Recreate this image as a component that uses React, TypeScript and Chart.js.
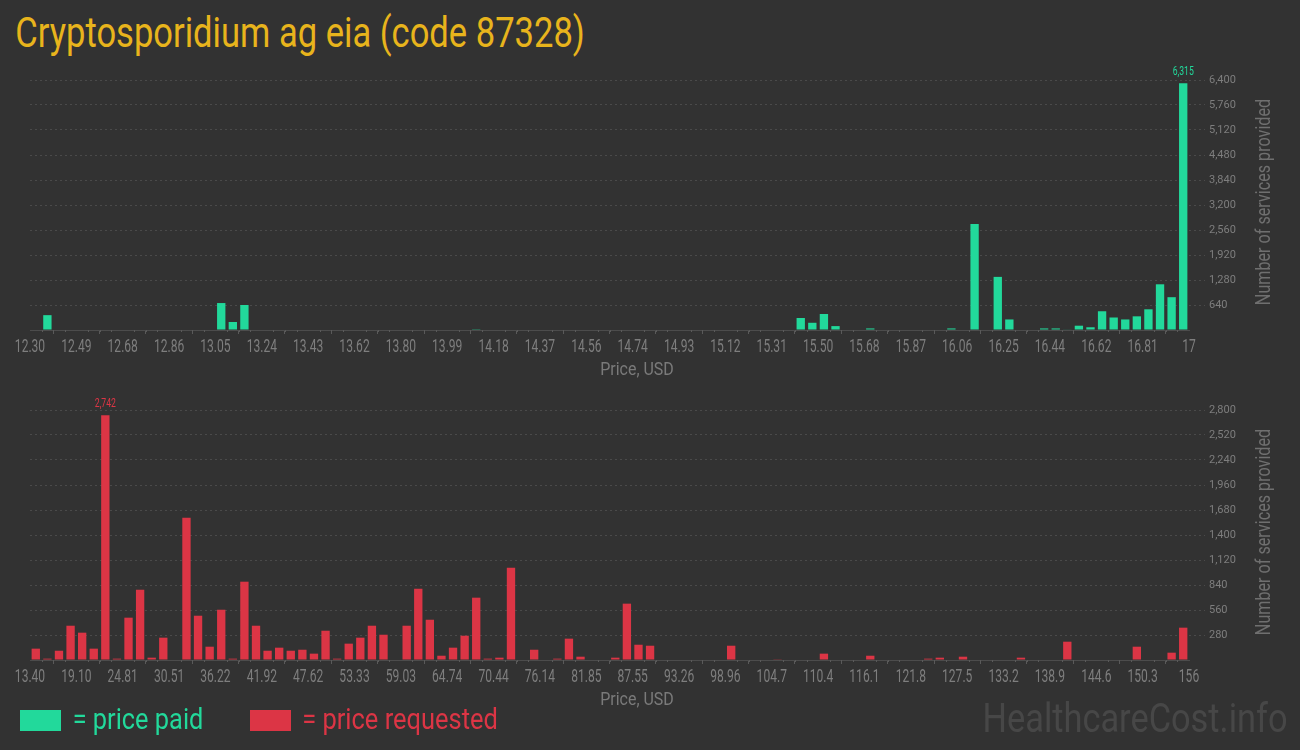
import React, { useEffect, useLayoutEffect, useRef, useState } from "react";
import { Chart, registerables } from "chart.js";

Chart.register(...registerables);

const chartTitle = "Cryptosporidium ag eia (code 87328)";
const xAxisTitle = "Price, USD";
const yAxisTitle = "Number of services provided";
const paidLegend = "= price paid";
const requestedLegend = "= price requested";
const watermark = "HealthcareCost.info";

const paidTickLabels = [
  "12.30", "12.49", "12.68", "12.86", "13.05", "13.24", "13.43", "13.62", "13.80",
  "13.99", "14.18", "14.37", "14.56", "14.74", "14.93", "15.12", "15.31", "15.50",
  "15.68", "15.87", "16.06", "16.25", "16.44", "16.62", "16.81", "17",
];

const requestedTickLabels = [
  "13.40", "19.10", "24.81", "30.51", "36.22", "41.92", "47.62", "53.33", "59.03",
  "64.74", "70.44", "76.14", "81.85", "87.55", "93.26", "98.96", "104.7", "110.4",
  "116.1", "121.8", "127.5", "133.2", "138.9", "144.6", "150.3", "156",
];

// number of services per price bin (100 bins)
const paidCounts = [
  0, 380, 0, 0, 0, 0, 0, 0, 0, 0,
  0, 0, 0, 0, 0, 0, 690, 205, 640, 0,
  0, 0, 0, 0, 0, 0, 0, 0, 0, 0,
  0, 0, 0, 0, 0, 0, 0, 0, 20, 0,
  0, 0, 0, 0, 0, 0, 0, 0, 0, 0,
  0, 0, 0, 0, 0, 0, 0, 0, 0, 0,
  0, 0, 0, 0, 0, 0, 307, 185, 410, 100,
  0, 0, 40, 0, 0, 0, 0, 0, 0, 40,
  0, 2714, 0, 1360, 270, 0, 0, 40, 40, 15,
  110, 70, 480, 320, 270, 350, 530, 1170, 840, 6315,
];

const requestedCounts = [
  127, 15, 104, 384, 306, 127, 2742, 15, 474, 787,
  26, 250, 0, 1594, 496, 149, 563, 15, 877, 384,
  104, 138, 104, 115, 71, 328, 15, 183, 250, 384,
  283, 0, 384, 798, 451, 48, 138, 272, 698, 15,
  26, 1034, 0, 115, 0, 15, 239, 37, 0, 0,
  26, 631, 171, 160, 0, 0, 0, 0, 0, 0,
  160, 0, 0, 0, 8, 0, 0, 0, 71, 0,
  0, 0, 48, 0, 0, 0, 0, 15, 26, 0,
  37, 0, 0, 0, 0, 26, 0, 0, 0, 205,
  0, 0, 0, 0, 0, 149, 0, 0, 82, 362,
];

const paidAxisMax = 6400;
const paidAxisStep = 640;
const requestedAxisMax = 2800;
const requestedAxisStep = 280;

const BG = "#323232";
const GREEN = "#22d99b";
const RED = "#dc3545";
const FONT = "Roboto, sans-serif";
const TICK_COLOR = "#7e7e7e";

const minorTicksPlugin = {
  id: "minorTicks",
  afterDraw(chart: any) {
    const xs = chart.scales.x;
    const ctx = chart.ctx;
    const bottom = chart.chartArea.bottom;
    ctx.save();
    ctx.strokeStyle = "#5a5a5a";
    ctx.lineWidth = 1;
    for (let i = 0; i <= 100; i++) {
      if (i % 4 === 0) continue;
      const px = Math.round(xs.getPixelForValue(i)) + 0.5;
      ctx.beginPath();
      ctx.moveTo(px, bottom);
      ctx.lineTo(px, bottom + 2);
      ctx.stroke();
    }
    ctx.restore();
  },
};

// draws the x tick labels in a narrow (horizontally condensed) style
const narrowXLabelsPlugin = {
  id: "narrowXLabels",
  afterDraw(chart: any, _args: any, opts: any) {
    const xs = chart.scales.x;
    const labels: string[] = opts.labels || [];
    const ctx = chart.ctx;
    const y = chart.chartArea.bottom + 22;
    ctx.save();
    ctx.fillStyle = TICK_COLOR;
    ctx.font = `18px ${FONT}`;
    ctx.textAlign = "center";
    ctx.textBaseline = "alphabetic";
    for (const t of xs.ticks) {
      const lbl = labels[Math.round(t.value / 4)];
      if (lbl === undefined) continue;
      const px = xs.getPixelForValue(t.value);
      ctx.save();
      ctx.translate(px, y);
      ctx.scale(0.67, 1);
      ctx.fillText(lbl, 0, 0);
      ctx.restore();
    }
    ctx.restore();
  },
};

const maxLabelPlugin = {
  id: "maxLabel",
  afterDatasetsDraw(chart: any) {
    const ds = chart.data.datasets[0];
    const vals = ds.data.map((d: any) => d.y);
    let idx = 0;
    for (let i = 1; i < vals.length; i++) if (vals[i] > vals[idx]) idx = i;
    const el = chart.getDatasetMeta(0).data[idx];
    if (!el) return;
    const ctx = chart.ctx;
    ctx.save();
    ctx.fillStyle = ds.backgroundColor;
    ctx.font = `12px ${FONT}`;
    ctx.textAlign = "center";
    ctx.textBaseline = "bottom";
    ctx.translate(el.x, el.y - 5);
    ctx.scale(0.72, 1);
    ctx.fillText(vals[idx].toLocaleString("en-US"), 0, 0);
    ctx.restore();
  },
};

function makeConfig(counts: number[], tickLabels: string[], color: string, max: number, step: number): any {
  return {
    type: "bar",
    data: {
      datasets: [
        {
          data: counts.map((v, i) => ({ x: i + 0.5, y: v })),
          backgroundColor: color,
          borderWidth: 0,
          barPercentage: 0.72,
          categoryPercentage: 1,
        },
      ],
    },
    options: {
      animation: false,
      responsive: false,
      maintainAspectRatio: false,
      layout: { padding: { left: 30, top: 20, right: 0, bottom: 0 } },
      plugins: {
        legend: { display: false },
        tooltip: { enabled: false },
        narrowXLabels: { labels: tickLabels },
      },
      scales: {
        x: {
          type: "linear",
          min: 0,
          max: 100,
          offset: false,
          ticks: {
            display: false,
            stepSize: 4,
            autoSkip: false,
            maxRotation: 0,
          },
          grid: {
            display: true,
            drawOnChartArea: false,
            tickLength: 4,
            tickColor: "#5a5a5a",
          },
          border: { display: true, color: "#4c4c4c", width: 1 },
          afterFit: (s: any) => {
            s.height = 60;
          },
        },
        y: {
          type: "linear",
          position: "right",
          min: 0,
          max,
          ticks: {
            stepSize: step,
            color: TICK_COLOR,
            padding: 4,
            font: { family: FONT, size: 11 },
            callback: (v: number) => (v === 0 ? "" : v.toLocaleString("en-US")),
          },
          grid: {
            color: (c: any) => (c.tick && c.tick.value === 0 ? "rgba(0,0,0,0)" : "#4a4a4a"),
            tickColor: (c: any) => (c.tick && c.tick.value === 0 ? "rgba(0,0,0,0)" : "#4a4a4a"),
            tickLength: 16,
            tickBorderDash: [2, 3],
            lineWidth: 1,
          },
          border: { display: false, dash: [2, 3] },
          afterFit: (s: any) => {
            s.width = 111;
          },
        },
      },
    },
    plugins: [minorTicksPlugin, narrowXLabelsPlugin, maxLabelPlugin],
  };
}

function BarChart(props: { counts: number[]; labels: string[]; color: string; max: number; step: number; top: number }) {
  const ref = useRef<HTMLCanvasElement>(null);
  useEffect(() => {
    if (!ref.current) return;
    const chart = new Chart(ref.current, makeConfig(props.counts, props.labels, props.color, props.max, props.step));
    return () => chart.destroy();
  }, []);
  return (
    <canvas
      ref={ref}
      width={1300}
      height={330}
      style={{ position: "absolute", left: 0, top: props.top, width: 1300, height: 330 }}
    />
  );
}

function FitText(props: {
  text: string;
  cx: number;
  cy: number;
  width: number;
  size: number;
  color: string;
  rotate?: number;
}) {
  const ref = useRef<HTMLDivElement>(null);
  const [sx, setSx] = useState(1);
  useLayoutEffect(() => {
    const el = ref.current;
    if (!el) return;
    const w = el.offsetWidth;
    if (w > 0) setSx(props.width / w);
  }, [props.text, props.width, props.size]);
  return (
    <div
      ref={ref}
      style={{
        position: "absolute",
        left: props.cx,
        top: props.cy,
        whiteSpace: "nowrap",
        lineHeight: 1,
        fontSize: props.size,
        fontFamily: FONT,
        color: props.color,
        transform: `translate(-50%, -50%) rotate(${props.rotate ?? 0}deg) scaleX(${sx})`,
      }}
    >
      {props.text}
    </div>
  );
}

export default function App() {
  return (
    <div
      style={{
        position: "fixed",
        left: 0,
        top: 0,
        width: 1300,
        height: 750,
        background: BG,
        overflow: "hidden",
      }}
    >
      <FitText text={chartTitle} cx={300} cy={33} width={570} size={42} color="#e8b41c" />
      <BarChart counts={paidCounts} labels={paidTickLabels} color={GREEN} max={paidAxisMax} step={paidAxisStep} top={60} />
      <BarChart
        counts={requestedCounts}
        labels={requestedTickLabels}
        color={RED}
        max={requestedAxisMax}
        step={requestedAxisStep}
        top={390}
      />
      <FitText text={xAxisTitle} cx={637} cy={368} width={74} size={19} color="#7a7a7a" />
      <FitText text={xAxisTitle} cx={637} cy={698} width={74} size={19} color="#7a7a7a" />
      <FitText text={yAxisTitle} cx={1263} cy={201.5} width={206} size={20} color="#6f6f6f" rotate={-90} />
      <FitText text={yAxisTitle} cx={1263} cy={531.5} width={206} size={20} color="#6f6f6f" rotate={-90} />
      <div style={{ position: "absolute", left: 20, top: 710, width: 41, height: 21, background: GREEN }} />
      <FitText text={paidLegend} cx={137.5} cy={719} width={131} size={30} color={GREEN} />
      <div style={{ position: "absolute", left: 250, top: 710, width: 41, height: 21, background: RED }} />
      <FitText text={requestedLegend} cx={400} cy={719} width={196} size={30} color={RED} />
      <FitText text={watermark} cx={1134.5} cy={719} width={305} size={40} color="#474747" />
    </div>
  );
}
